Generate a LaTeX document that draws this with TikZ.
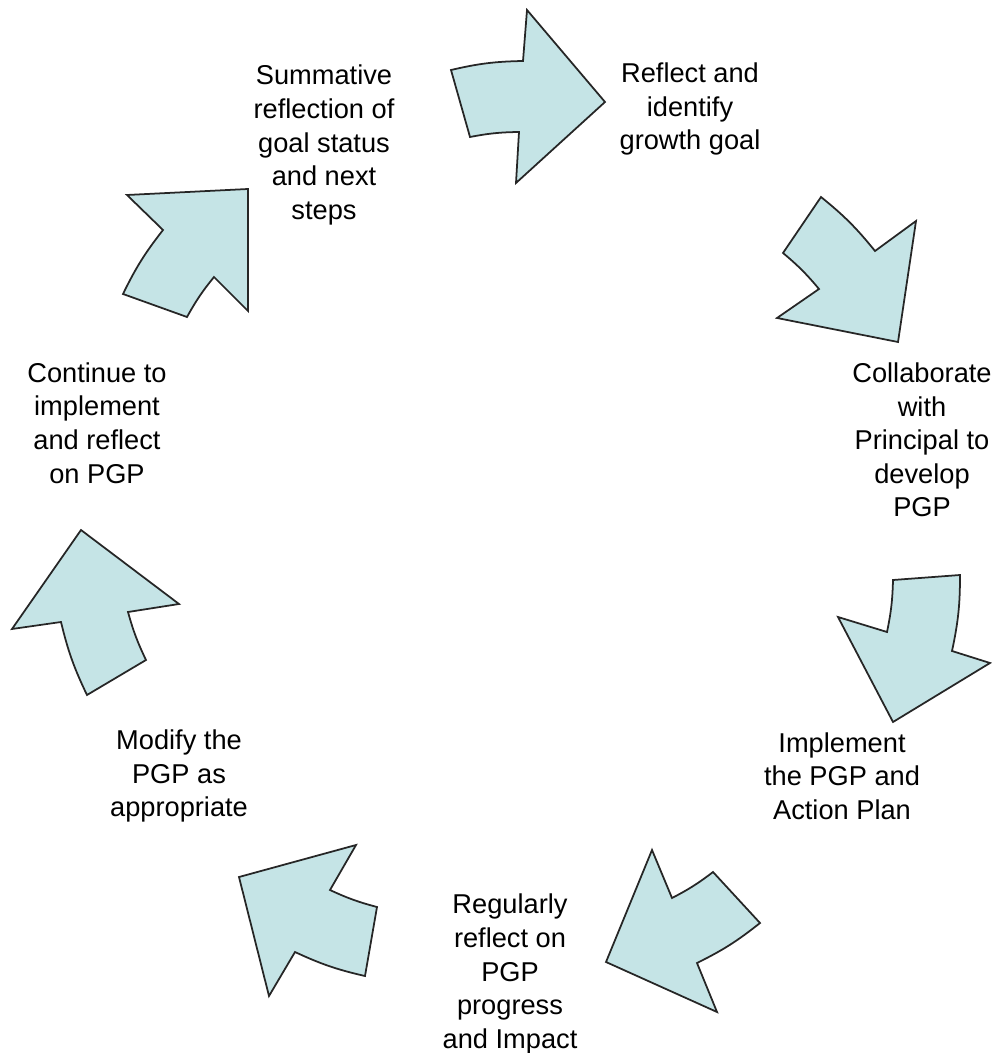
\documentclass[tikz,border=0pt]{standalone}
\usepackage{fontspec}
\setmainfont{Liberation Sans}
\definecolor{arrowfill}{RGB}{197,228,230}
\begin{document}
\begin{tikzpicture}[x=0.02cm,y=-0.02cm,line join=miter]
				\tikzset{cyclearrow/.style={draw=black!85,fill=arrowfill,line width=1pt},
					steptext/.style={align=center,inner sep=0pt,font=\fontsize{15.5}{19.1}\selectfont}
				}
				\useasboundingbox (0,0) rectangle (991,1053);
				% steps of the cycle
				\node[steptext] (reflect) at (690,109) {Reflect and\\identify\\growth goal};
				\node[steptext] (collab) at (922,440) {Collaborate\\with\\Principal to\\develop\\PGP};
				\node[steptext] (implement) at (842,776) {Implement\\the PGP and\\Action Plan};
				\node[steptext] (regular) at (510,974) {Regularly\\reflect on\\PGP\\progress\\and Impact};
				\node[steptext] (modify) at (179,776) {Modify the\\PGP as\\appropriate};
				\node[steptext] (continue) at (97,423) {Continue to\\implement\\and reflect\\on PGP};
				\node[steptext] (summative) at (324,145) {Summative\\reflection of\\goal status\\and next\\steps};
				% curved arrows
				\draw[cyclearrow] (451,70) to[bend left=6] (523,61) -- (527,10) -- (605,102) -- (516,183) -- (519,132) to[bend right=5] (470,137) -- cycle;
				\draw[cyclearrow] (821,197) to[bend left=6] (875,251) -- (916,221) -- (898,342) -- (777,318) -- (819,289) to[bend right=5] (783,253) -- cycle;
				\draw[cyclearrow] (960,575) to[bend left=6] (952,651) -- (990,663) -- (893,722) -- (838,617) -- (887,632) to[bend right=5] (893,580) -- cycle;
				\draw[cyclearrow] (760,923) to[bend left=6] (697,963) -- (717,1012) -- (606,962) -- (652,850) -- (672,898) to[bend right=5] (713,872) -- cycle;
				\draw[cyclearrow] (365,976) to[bend left=6] (295,952) -- (269,996) -- (239,877) -- (356,845) -- (330,890) to[bend right=5] (377,907) -- cycle;
				\draw[cyclearrow] (87,695) to[bend left=6] (61,622) -- (12,629) -- (81,530) -- (179,604) -- (128,612) to[bend right=5] (146,660) -- cycle;
				\draw[cyclearrow] (123,294) to[bend left=6] (163,230) -- (127,195) -- (248,189) -- (248,311) -- (214,277) to[bend right=5] (187,317) -- cycle;
			\end{tikzpicture}
\end{document}
